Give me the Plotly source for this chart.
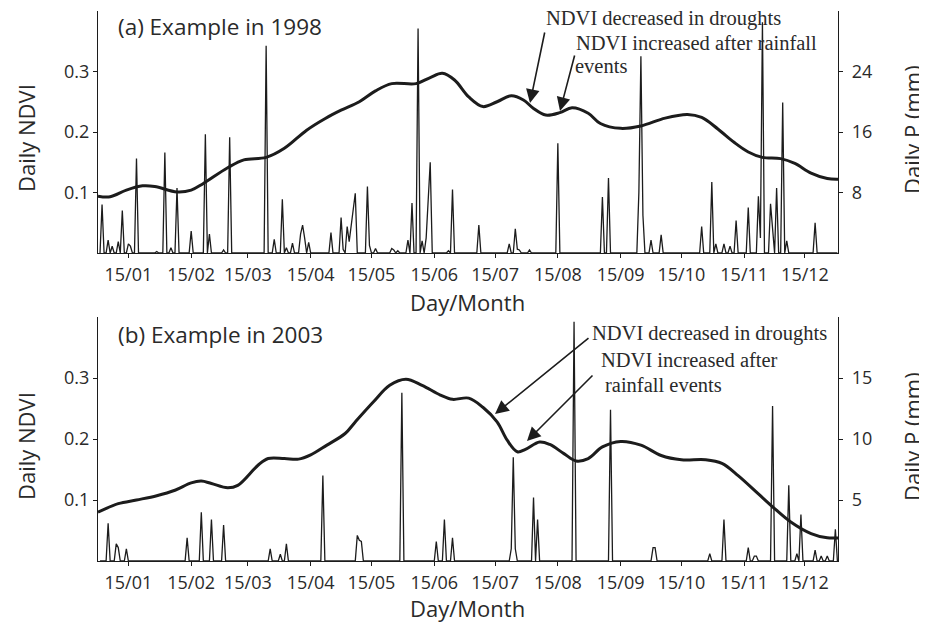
import numpy as np
import plotly.graph_objects as go

# ---------------- data ----------------
month_tick_days = [15, 46, 74, 105, 135, 166, 196, 227, 258, 288, 319, 349]
month_tick_text = ["15/01", "15/02", "15/03", "15/04", "15/05", "15/06",
                   "15/07", "15/08", "15/09", "15/10", "15/11", "15/12"]

# 1998: rainfall event days (day of year) and daily P (mm)
rain_days_1998 = [2, 5, 7, 10, 12, 15, 16, 19, 29, 33, 36, 39, 46, 53, 55, 62, 65,
                  83, 87, 91, 93, 96, 100, 101, 102, 104, 115, 120, 121, 123, 124,
                  125, 126, 127, 133, 134, 137, 145, 146, 148, 153, 155, 158, 160,
                  162, 163, 164, 173, 175, 188, 203, 206, 207, 208, 213, 227, 249,
                  252, 267, 268, 269, 273, 278, 298, 303, 305, 309, 312, 315, 321,
                  326, 327, 328, 332, 333, 335, 338, 340, 354]
rain_vals_1998 = [6.4, 1.7, 0.9, 1.5, 5.6, 1.2, 0.9, 12.5, 0.2, 13.3, 0.7, 8.6, 2.9,
                  15.7, 2.5, 0.4, 15.3, 27.4, 1.8, 7.1, 0.7, 1.3, 2.5, 3.7, 2.0, 1.4,
                  2.7, 4.7, 0.5, 3.5, 1.5, 3.5, 5.5, 7.9, 8.8, 1.0, 0.6, 0.6, 0.4,
                  0.3, 1.7, 6.6, 29.7, 1.6, 2.0, 7.0, 12.0, 0.3, 8.4, 3.7, 1.2, 3.2,
                  0.5, 0.4, 0.4, 14.5, 7.4, 9.9, 8.0, 26.0, 5.0, 1.7, 2.4, 3.5, 9.4,
                  1.2, 1.2, 0.9, 4.3, 6.0, 7.5, 2.0, 30.5, 6.5, 3.0, 8.6, 19.9, 1.6,
                  4.0]

# 1998: daily NDVI read at anchor days
ndvi_days_1998 = [0, 6, 14, 22, 28, 39, 46, 52, 64, 72, 83, 92, 103, 112, 120, 129,
                  137, 145, 157, 164, 170, 176, 183, 190, 197, 204, 210, 215, 221,
                  228, 234, 242, 248, 258, 268, 280, 291, 298, 306, 314, 321, 328,
                  337, 344, 352, 360, 366]
ndvi_1998 = [0.094, 0.093, 0.104, 0.111, 0.110, 0.101, 0.104, 0.115, 0.141, 0.154,
             0.158, 0.173, 0.203, 0.222, 0.236, 0.250, 0.268, 0.280, 0.280, 0.290,
             0.297, 0.286, 0.258, 0.242, 0.250, 0.260, 0.253, 0.239, 0.228, 0.232,
             0.240, 0.231, 0.214, 0.206, 0.210, 0.223, 0.229, 0.224, 0.205, 0.183,
             0.167, 0.158, 0.156, 0.148, 0.132, 0.123, 0.122]

# 2003
rain_days_2003 = [5, 9, 10, 14, 44, 51, 56, 62, 85, 90, 93, 111, 128, 129, 130, 150,
                  167, 171, 175, 204, 205, 206, 215, 217, 235, 253, 274, 275, 302,
                  309, 321, 324, 325, 333, 341, 345, 347, 354, 357, 360, 364]
rain_vals_2003 = [3.1, 1.4, 1.1, 1.0, 1.9, 4.0, 3.4, 2.95, 1.0, 0.55, 1.4, 7.0, 2.1,
                  1.7, 1.6, 13.8, 1.6, 3.4, 1.9, 1.0, 8.5, 1.0, 5.2, 3.4, 19.6, 12.4,
                  1.1, 1.1, 0.6, 3.4, 1.1, 0.4, 0.4, 12.7, 6.2, 0.6, 3.8, 0.9, 0.4,
                  0.4, 2.6]

ndvi_days_2003 = [0, 10, 19, 29, 38, 46, 51, 56, 64, 69, 79, 84, 92, 99, 105, 113,
                  122, 127, 136, 144, 152, 160, 169, 175, 183, 190, 197, 202, 207,
                  211, 218, 223, 230, 236, 242, 249, 258, 268, 278, 288, 300, 308,
                  316, 326, 334, 342, 352, 360, 366]
ndvi_2003 = [0.080, 0.094, 0.100, 0.107, 0.116, 0.128, 0.131, 0.127, 0.120, 0.124,
             0.157, 0.168, 0.168, 0.167, 0.174, 0.190, 0.209, 0.228, 0.261, 0.288,
             0.298, 0.288, 0.272, 0.265, 0.267, 0.252, 0.228, 0.198, 0.179, 0.183,
             0.195, 0.191, 0.176, 0.164, 0.168, 0.187, 0.196, 0.190, 0.173, 0.166,
             0.166, 0.160, 0.140, 0.110, 0.086, 0.064, 0.045, 0.038, 0.038]

days = np.arange(1, 366)


def daily_series(ev_days, ev_vals):
    s = np.zeros(len(days))
    for d, v in zip(ev_days, ev_vals):
        s[d - 1] = v
    return s


p1998 = daily_series(rain_days_1998, rain_vals_1998)
p2003 = daily_series(rain_days_2003, rain_vals_2003)

# ---------------- figure ----------------
OFF = 8                      # page body margin
W, H = 927 - OFF, 628 - OFF
INK = "#1c1c1c"
TXT = "#2a2a2a"
SANS = "Open Sans"
SERIF = "Liberation Serif"


def px_x(p):
    return (p - OFF) / W


def px_y(p):
    return 1 - (p - OFF) / H


fig = go.Figure()

fig.add_trace(go.Scatter(x=days, y=p1998, mode="lines", xaxis="x", yaxis="y2",
                         line=dict(color=INK, width=1.3), showlegend=False))
fig.add_trace(go.Scatter(x=ndvi_days_1998, y=ndvi_1998, mode="lines", xaxis="x", yaxis="y",
                         line=dict(color=INK, width=3, shape="spline", smoothing=1.0),
                         showlegend=False))
fig.add_trace(go.Scatter(x=days, y=p2003, mode="lines", xaxis="x2", yaxis="y4",
                         line=dict(color=INK, width=1.3), showlegend=False))
fig.add_trace(go.Scatter(x=ndvi_days_2003, y=ndvi_2003, mode="lines", xaxis="x2", yaxis="y3",
                         line=dict(color=INK, width=3, shape="spline", smoothing=1.0),
                         showlegend=False))

xdom = [px_x(98), px_x(838)]
top_dom = [px_y(253), px_y(11)]
bot_dom = [px_y(561), px_y(317)]

xcommon = dict(range=[0, 365.3], tickmode="array", tickvals=month_tick_days,
               ticktext=month_tick_text, ticks="outside", ticklen=4, tickwidth=1.2,
               tickcolor=INK, showline=True, linecolor=INK, linewidth=1.3,
               showgrid=False, zeroline=False, domain=xdom,
               tickfont=dict(family=SANS, size=18, color=TXT), ticklabelstandoff=1)
ycommon = dict(ticks="outside", ticklen=4, tickwidth=1.2, tickcolor=INK,
               showline=True, linecolor=INK, linewidth=1.3, showgrid=False,
               zeroline=False, tickfont=dict(family=SANS, size=18, color=TXT))

fig.update_layout(
    width=W, height=H,
    margin=dict(l=0, r=0, t=0, b=0),
    paper_bgcolor="white", plot_bgcolor="rgba(0,0,0,0)",
    xaxis=dict(**xcommon, anchor="y"),
    xaxis2=dict(**xcommon, anchor="y3"),
    yaxis=dict(**ycommon, domain=top_dom, range=[0, 0.4], tickvals=[0.1, 0.2, 0.3],
               ticktext=["0.1", "0.2", "0.3"], anchor="x"),
    yaxis2=dict(**ycommon, domain=top_dom, range=[0, 32], tickvals=[8, 16, 24],
                overlaying="y", side="right", anchor="x", ticklabelstandoff=5),
    yaxis3=dict(**ycommon, domain=bot_dom, range=[0, 0.4], tickvals=[0.1, 0.2, 0.3],
                ticktext=["0.1", "0.2", "0.3"], anchor="x2"),
    yaxis4=dict(**ycommon, domain=bot_dom, range=[0, 20], tickvals=[5, 10, 15],
                overlaying="y3", side="right", anchor="x2", ticklabelstandoff=5),
)

ann = []


def paper_text(text, x, y, size=22, angle=0, xanchor="center", family=SANS):
    ann.append(dict(text=text, x=px_x(x), y=px_y(y), xref="paper", yref="paper",
                    showarrow=False, textangle=angle, xanchor=xanchor, yanchor="middle",
                    font=dict(family=family, size=size, color=TXT)))


paper_text("(a) Example in 1998", 116, 26, size=22.5, xanchor="left")
paper_text("(b) Example in 2003", 116, 334, size=22.5, xanchor="left")
paper_text("Daily NDVI", 26, 138, angle=-90)
paper_text("Daily NDVI", 26, 446, angle=-90)
paper_text("Daily P (mm)", 912, 130, angle=-90)
paper_text("Daily P (mm)", 912, 437, angle=-90)
paper_text("Day/Month", 467, 302)
paper_text("Day/Month", 467, 608)

# serif callouts
paper_text("NDVI decreased in droughts", 544, 19, size=20.5, xanchor="left", family=SERIF)
paper_text("NDVI increased after rainfall", 574, 43, size=20.5, xanchor="left", family=SERIF)
paper_text("events", 573, 66, size=20.5, xanchor="left", family=SERIF)
paper_text("NDVI decreased in droughts", 590, 333, size=20.5, xanchor="left", family=SERIF)
paper_text("NDVI increased after", 599, 360, size=20.5, xanchor="left", family=SERIF)
paper_text("rainfall events", 603, 385, size=20.5, xanchor="left", family=SERIF)


def arrow(xtip, ytip, xtail, ytail):
    ann.append(dict(text="", x=px_x(xtip), y=px_y(ytip), xref="paper", yref="paper",
                    ax=xtail - xtip, ay=ytail - ytip, axref="pixel", ayref="pixel",
                    showarrow=True, arrowhead=2, arrowsize=1.7, arrowwidth=1.6,
                    arrowcolor=INK))


arrow(530, 103, 545, 31)
arrow(560, 111, 575, 54)
arrow(495, 414, 590, 337)
arrow(527, 441, 594, 374)

fig.update_layout(annotations=ann)

fig.write_html("out.html")
